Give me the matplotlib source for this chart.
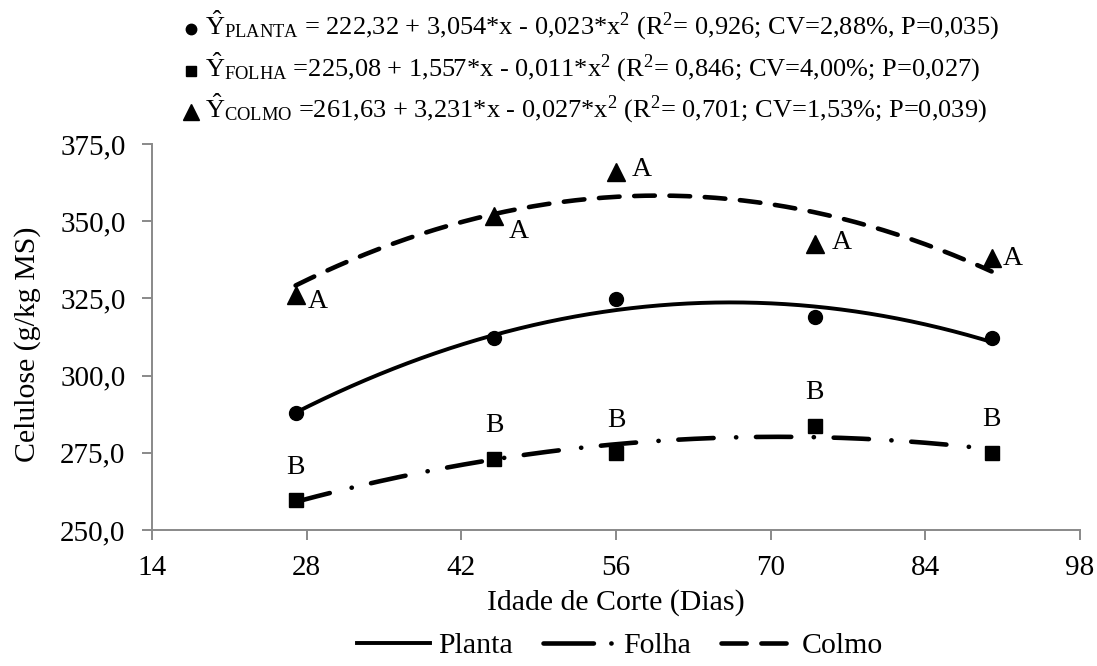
import numpy as np
import matplotlib
matplotlib.use("Agg")
import matplotlib.pyplot as plt
from matplotlib.lines import Line2D
from matplotlib.ticker import FuncFormatter

plt.rcParams['font.family'] = ['Liberation Serif', 'DejaVu Serif']
plt.rcParams['mathtext.fontset'] = 'custom'
plt.rcParams['mathtext.rm'] = 'Liberation Serif'
plt.rcParams['mathtext.it'] = 'Liberation Serif:italic'

# dados
idade = [27, 45, 56, 74, 90]
planta = [288.0, 312.3, 324.8, 319.0, 312.1]
folha = [259.7, 273.0, 274.8, 283.8, 275.0]
colmo = [326.0, 351.7, 366.0, 342.6, 338.0]
letras_colmo = ['A', 'A', 'A', 'A', 'A']
letras_folha = ['B', 'B', 'B', 'B', 'B']

# coeficientes das regressoes (b0, b1, b2)
coef_planta = [222.32, 3.054, -0.023]
coef_folha = [225.08, 1.557, -0.011]
coef_colmo = [261.63, 3.231, -0.027]

equacoes = [
    "$\\hat{\\mathrm{Y}}_{\\mathrm{PLANTA}}$ = 222,32 + 3,054*x - 0,023*x$^2$ (R$^2$= 0,926; CV=2,88%, P=0,035)",
    "$\\hat{\\mathrm{Y}}_{\\mathrm{FOLHA}}$ =225,08 + 1,557*x - 0,011*x$^2$ (R$^2$= 0,846; CV=4,00%; P=0,027)",
    "$\\hat{\\mathrm{Y}}_{\\mathrm{COLMO}}$ =261,63 + 3,231*x - 0,027*x$^2$ (R$^2$= 0,701; CV=1,53%; P=0,039)",
]

W, H = 1097, 666
fig = plt.figure(figsize=(W / 100, H / 100), dpi=100)
ax = fig.add_axes([152 / W, 1 - 530 / H, 928 / W, 386 / H])

ls_folha = (0, (7.7, 4.9, 0.05, 4.3))
ls_colmo = (0, (4.5, 3.2))

xs = np.linspace(min(idade), max(idade), 200)
def curva(c):
    return c[0] + c[1] * xs + c[2] * xs ** 2

ax.plot(xs, curva(coef_planta), color='black', lw=2.8, solid_capstyle='round')
ax.plot(xs, curva(coef_folha), color='black', lw=3.3, dash_capstyle='round', linestyle=ls_folha)
ax.plot(xs, curva(coef_colmo), color='black', lw=3.3, dash_capstyle='round', linestyle=ls_colmo)

ax.plot(idade, planta, 'o', color='black', ms=10, zorder=5)
ax.plot(idade, folha, 's', color='black', ms=9.6, zorder=5)
ax.plot(idade, colmo, '^', color='black', ms=12.5, zorder=5)

# letras de comparacao
offs_a = [(22, -6), (24, -16), (26, 2), (27, 2), (21, 0)]
for x, y, t, o in zip(idade, colmo, letras_colmo, offs_a):
    ax.annotate(t, (x, y), xytext=o, textcoords='offset pixels',
                ha='center', va='center', fontsize=20)
for x, y, t in zip(idade, folha, letras_folha):
    ax.annotate(t, (x, y), xytext=(0, 33), textcoords='offset pixels',
                ha='center', va='center', fontsize=20)

ax.set_xlim(14, 98)
ax.set_ylim(250, 375)
ax.set_xticks(range(14, 99, 14))
ax.set_yticks(range(250, 376, 25))
ax.yaxis.set_major_formatter(FuncFormatter(lambda v, p: f"{v:.1f}".replace('.', ',')))

for s in ['top', 'right']:
    ax.spines[s].set_visible(False)
for s in ['left', 'bottom']:
    ax.spines[s].set_color('#898989')
    ax.spines[s].set_linewidth(1.4)
ax.tick_params(direction='out', length=7, width=1.4, color='#898989', labelsize=21)
ax.tick_params(axis='y', pad=12)
ax.tick_params(axis='x', pad=11)

ax.set_ylabel("Celulose (g/kg MS)", fontsize=21.5)
ax.yaxis.set_label_coords(-124 / 928, 0.48)
ax.yaxis.label.set_va('center')
ax.set_xlabel("Idade de Corte (Dias)", fontsize=21.5)
ax.xaxis.set_label_coords(0.5, -73 / 386)
ax.xaxis.label.set_va('center')

# equacoes no topo
marcas = ['o', 's', '^']
tam = [7.5, 7.5, 11]
base_y = [35, 77, 118]
for txt, m, ms, by in zip(equacoes, marcas, tam, base_y):
    fig.text(205 / W, 1 - by / H, txt, fontsize=19, va='baseline', ha='left')
    fig.add_artist(Line2D([191 / W], [1 - (by - 6) / H], marker=m, ms=ms,
                          color='black', transform=fig.transFigure))

handles = [
    Line2D([], [], color='black', lw=2.8),
    Line2D([], [], color='black', lw=3.3, dash_capstyle='round', linestyle=(0, (11, 3.8, 0.05, 3))),
    Line2D([], [], color='black', lw=3.3, dash_capstyle='round', linestyle=(0, (5.5, 3.2))),
]
fig.legend(handles, ['Planta', 'Folha', 'Colmo'], loc='center',
           bbox_to_anchor=(620 / W, 1 - 646 / H), ncol=3, frameon=False,
           fontsize=21.5, handlelength=2.45, handletextpad=0.25, columnspacing=1.0,
           borderpad=0)

fig.savefig("out.png", dpi=100)
